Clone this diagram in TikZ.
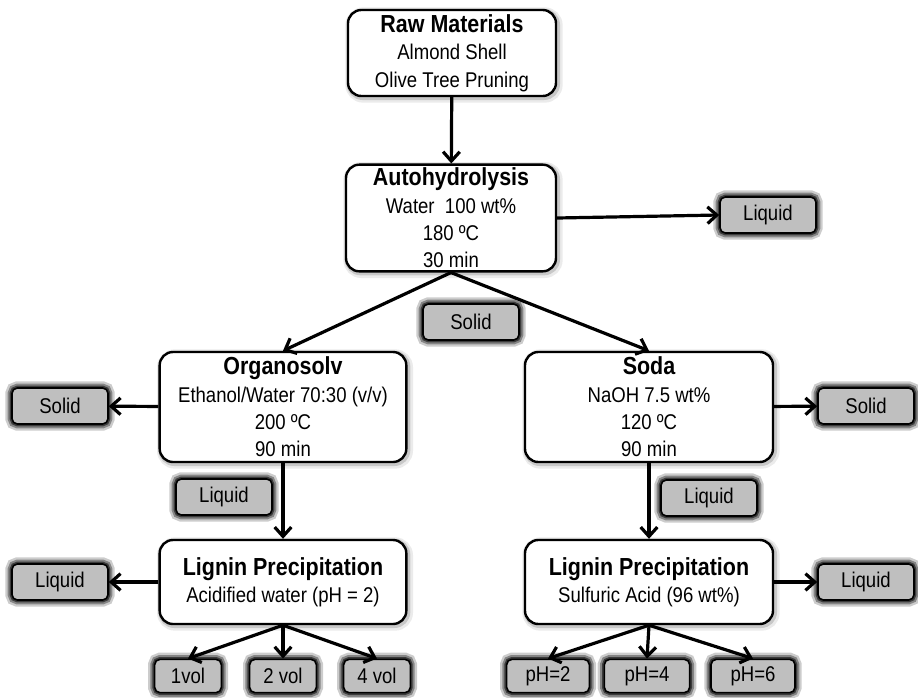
\documentclass[tikz,border=0pt]{standalone}
\usepackage{fontspec}
\setmainfont{Liberation Sans}[FakeStretch=0.87]
\usetikzlibrary{arrows.meta}

\newcommand{\ttl}{\fontsize{18.5}{22}\selectfont\bfseries}
\newcommand{\txt}{\fontsize{16}{20.5}\selectfont}

\begin{document}
\begin{tikzpicture}[x=0.75pt, y=-0.75pt,
    stepbox/.style={draw=black, line width=1.8pt, fill=white, rounded corners=10pt,
        align=center, inner sep=2pt, font=\txt,
        preaction={draw=black, line width=7pt, draw opacity=0.08, transform canvas={shift={(1.5pt,-1.5pt)}}},
        preaction={draw=black, line width=4pt, draw opacity=0.15, transform canvas={shift={(1pt,-1pt)}}}},
    tagbox/.style={draw=black, line width=1.2pt, fill=black!25, rounded corners=4pt,
        minimum width=72pt, minimum height=27pt, inner sep=0pt, font=\txt,
        preaction={draw=black, line width=10pt, draw opacity=0.2},
        preaction={draw=black, line width=6.5pt, draw opacity=0.35},
        preaction={draw=black, line width=3.5pt, draw opacity=0.55}},
    flow/.style={line width=2.4pt, -{Straight Barb[length=7pt, width=12.5pt, line width=2.4pt]}}]

    \useasboundingbox (0,0) rectangle (918,697);

    % main steps
    \node[stepbox, minimum width=156pt, minimum height=64.5pt] (raw) at (452,53)
        {{\ttl Raw Materials}\\Almond Shell\\Olive Tree Pruning};
    \node[stepbox, minimum width=157.5pt, minimum height=80pt] (auto) at (451,218)
        {{\ttl Autohydrolysis}\\Water\ \ 100 wt\%\\180 ºC\\30 min};
    \node[stepbox, minimum width=185pt, minimum height=82.5pt] (org) at (283,407)
        {{\ttl Organosolv}\\Ethanol/Water 70:30 (v/v)\\200 ºC\\90 min};
    \node[stepbox, minimum width=186pt, minimum height=82.5pt] (soda) at (649,407)
        {{\ttl Soda}\\NaOH 7.5 wt\%\\120 ºC\\90 min};
    \node[stepbox, minimum width=185pt, minimum height=63pt] (lig1) at (283,582)
        {{\ttl Lignin Precipitation}\\Acidified water (pH = 2)};
    \node[stepbox, minimum width=186pt, minimum height=63pt] (lig2) at (649,582)
        {{\ttl Lignin Precipitation}\\Sulfuric Acid (96 wt\%)};

    % fractions
    \node[tagbox] (liq0) at (768,215) {Liquid};
    \node[tagbox] (sol0) at (471,322) {Solid};
    \node[tagbox] (sol1) at (60,406) {Solid};
    \node[tagbox] (sol2) at (866,406) {Solid};
    \node[tagbox] (liq1) at (224,497) {Liquid};
    \node[tagbox] (liq2) at (709,498) {Liquid};
    \node[tagbox] (liq3) at (60,582) {Liquid};
    \node[tagbox] (liq4) at (866,582) {Liquid};

    \node[tagbox, minimum width=50pt, minimum height=25pt] (v1) at (188,676) {1vol};
    \node[tagbox, minimum width=50pt, minimum height=25pt] (v2) at (283,676) {2 vol};
    \node[tagbox, minimum width=50pt, minimum height=25pt] (v4) at (377,676) {4 vol};
    \node[tagbox, minimum width=62pt, minimum height=25pt] (p2) at (548,676) {pH=2};
    \node[tagbox, minimum width=64pt, minimum height=25pt] (p4) at (647,676) {pH=4};
    \node[tagbox, minimum width=63pt, minimum height=25pt] (p6) at (753,676) {pH=6};

    % connectors
    \draw[flow] (raw) -- (auto);
    \draw[flow] (auto.east) -- (liq0.west);
    \draw[flow] (auto.south) -- (org.north);
    \draw[flow] (auto.south) -- (soda.north);
    \draw[flow] (org) -- (sol1);
    \draw[flow] (soda) -- (sol2);
    \draw[flow] (org) -- (lig1);
    \draw[flow] (soda) -- (lig2);
    \draw[flow] (lig1) -- (liq3);
    \draw[flow] (lig2) -- (liq4);
    \draw[flow] (lig1.south) -- (v1.north);
    \draw[flow] (lig1.south) -- (v2.north);
    \draw[flow] (lig1.south) -- (v4.north);
    \draw[flow] (lig2.south) -- (p2.north);
    \draw[flow] (lig2.south) -- (p4.north);
    \draw[flow] (lig2.south) -- (p6.north);
\end{tikzpicture}
\end{document}
